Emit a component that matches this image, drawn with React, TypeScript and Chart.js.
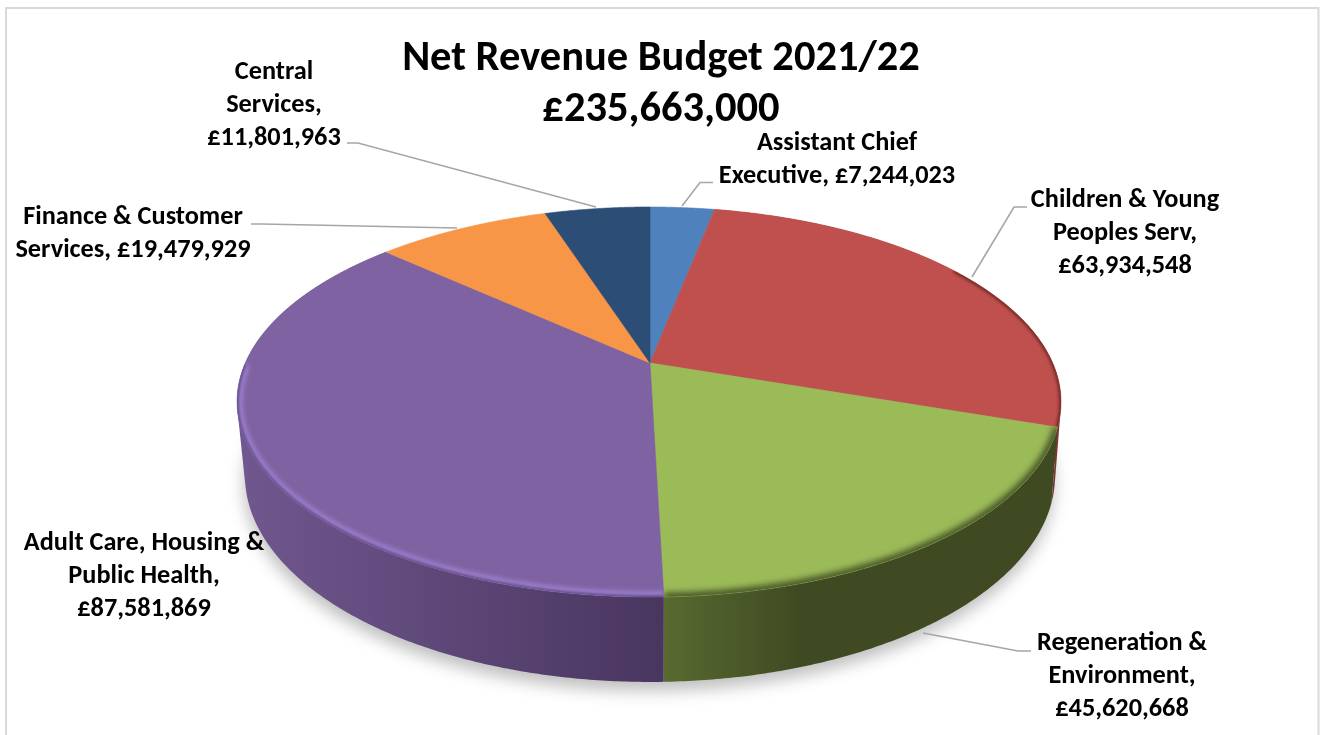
import React, { useEffect, useRef } from "react";
import { Chart, registerables } from "chart.js";

Chart.register(...registerables);

const categories = [
  "Assistant Chief Executive",
  "Children & Young Peoples Serv",
  "Regeneration & Environment",
  "Adult Care, Housing & Public Health",
  "Finance & Customer Services",
  "Central Services",
];
const budgetValues = [7244023, 63934548, 45620668, 87581869, 19479929, 11801963];
const sliceColors = ["#4f81bd", "#bf504d", "#9bbb59", "#7f62a1", "#f79646", "#2c4d75"];
const titleLines = ["Net Revenue Budget 2021/22", "£235,663,000"];
const labelLines = [
  ["Assistant Chief", "Executive, £7,244,023"],
  ["Children & Young", "Peoples Serv,", "£63,934,548"],
  ["Regeneration &", "Environment,", "£45,620,668"],
  ["Adult Care, Housing &", "Public Health,", "£87,581,869"],
  ["Finance & Customer", "Services, £19,479,929"],
  ["Central", "Services,", "£11,801,963"],
];

// layout only
const labelAnchors = [
  [837, 143],
  [1125, 200],
  [1122, 643],
  [144, 543],
  [133, 217],
  [274, 72],
];
const leaders = [
  [[713, 182.5], [700, 182.5], [682, 206]],
  [[1027, 207], [1014, 207], [972, 277]],
  [[1031, 651], [1018, 651], [923, 633]],
  [],
  [[251, 224], [262, 224], [457, 228]],
  [[347, 143], [358, 143], [596, 207]],
];
const wallGradients: (string[] | null)[] = [
  null,
  ["#7d3533", "#7d3533"],
  ["#586a30", "#3f4a22"],
  ["#70578f", "#49365f"],
  null,
  null,
];
const wallSpans = [null, null, [664, 800], [240, 664], null, null];
const rimStyles: ({ color: string; width: number; blur: number; minV: number; edge?: string } | null)[] = [
  null,
  { color: "rgba(85,30,30,0.75)", width: 4, blur: 1.5, minV: -0.55 },
  { color: "rgba(62,73,33,0.95)", width: 8, blur: 3, minV: -1 },
  { color: "rgba(160,132,214,0.95)", width: 11, blur: 2.6, minV: 0.0, edge: "#69508a" },
  null,
  null,
];

const PERSP = { cx: 650, cy: 363, a: 114.6, b: 402.7, p: -0.2, depth: 77.5, q: 0.014, leftBulge: 2 };

function project(angle: number, h: number): [number, number] {
  const u = Math.cos(angle);
  const v = Math.sin(angle);
  const w = 1 + PERSP.q * h + PERSP.p * v;
  const bulge = u < 0 ? PERSP.leftBulge * u * u * (1 - h) : 0;
  return [PERSP.cx + (PERSP.b * u) / w - bulge, (PERSP.cy + PERSP.a * v + PERSP.depth * h) / w];
}

function ringPath(ctx: CanvasRenderingContext2D, a0: number, a1: number, h: number, move: boolean) {
  const n = Math.max(8, Math.ceil(Math.abs(a1 - a0) * 120));
  for (let i = 0; i <= n; i++) {
    const [x, y] = project(a0 + ((a1 - a0) * i) / n, h);
    if (i === 0 && move) ctx.moveTo(x, y);
    else ctx.lineTo(x, y);
  }
}

const pie3d = {
  id: "pie3d",
  beforeDraw(chart: any) {
    const ctx: CanvasRenderingContext2D = chart.ctx;
    ctx.save();
    ctx.fillStyle = "#ffffff";
    ctx.fillRect(0, 0, chart.width, chart.height);
    ctx.strokeStyle = "#d9d9d9";
    ctx.lineWidth = 2;
    ctx.beginPath();
    ctx.moveTo(6, chart.height);
    ctx.lineTo(6, 8);
    ctx.lineTo(1318.5, 8);
    ctx.lineTo(1318.5, chart.height);
    ctx.stroke();
    ctx.restore();
  },
  beforeDatasetsDraw(chart: any) {
    const ctx: CanvasRenderingContext2D = chart.ctx;
    const arcs = chart.getDatasetMeta(0).data;
    ctx.save();

    // soft ground shadow
    ctx.save();
    ctx.filter = "blur(8px)";
    ctx.fillStyle = "rgba(0,0,0,0.25)";
    ctx.translate(-1, 9);
    ctx.beginPath();
    ringPath(ctx, 0, Math.PI * 2, 1, true);
    ctx.closePath();
    ctx.fill();
    ctx.restore();

    // side walls: one path of consistently wound quads, so the fill is a seamless union
    arcs.forEach((arc: any, i: number) => {
      const colors = wallGradients[i];
      if (!colors) return;
      const span = wallSpans[i];
      let fill: any = colors[0];
      if (span) {
        const g = ctx.createLinearGradient(span[0], 0, span[1], 0);
        g.addColorStop(0, colors[0]);
        g.addColorStop(1, colors[1]);
        fill = g;
      }
      ctx.fillStyle = fill;
      const n = Math.ceil((arc.endAngle - arc.startAngle) * 120);
      ctx.beginPath();
      for (let k = 0; k < n; k++) {
        const a0 = arc.startAngle + ((arc.endAngle - arc.startAngle) * k) / n;
        const a1 = arc.startAngle + ((arc.endAngle - arc.startAngle) * (k + 1)) / n;
        const q = [project(a0, 0), project(a1, 0), project(a1, 1), project(a0, 1)];
        let area = 0;
        q.forEach((p, m) => {
          const r = q[(m + 1) % 4];
          area += p[0] * r[1] - r[0] * p[1];
        });
        if (area < 0) q.reverse();
        q.forEach((p, m) => (m ? ctx.lineTo(p[0], p[1]) : ctx.moveTo(p[0], p[1])));
        ctx.closePath();
      }
      ctx.fill("nonzero");
    });

    // top faces
    arcs.forEach((arc: any, i: number) => {
      const slice = new Path2D();
      slice.moveTo(PERSP.cx, PERSP.cy);
      const n = Math.ceil((arc.endAngle - arc.startAngle) * 160);
      for (let k = 0; k <= n; k++) {
        const [x, y] = project(arc.startAngle + ((arc.endAngle - arc.startAngle) * k) / n, 0);
        slice.lineTo(x, y);
      }
      slice.closePath();
      ctx.fillStyle = sliceColors[i];
      ctx.strokeStyle = sliceColors[i];
      ctx.lineWidth = 0.6;
      ctx.fill(slice);
      ctx.stroke(slice);

      const rim = rimStyles[i];
      if (rim) {
        const rimLine = new Path2D();
        let started = false;
        for (let k = 0; k <= n; k++) {
          const a = arc.startAngle + ((arc.endAngle - arc.startAngle) * k) / n;
          if (Math.sin(a) < rim.minV) continue;
          const [x, y] = project(a, 0);
          if (!started) rimLine.moveTo(x, y);
          else rimLine.lineTo(x, y);
          started = true;
        }
        ctx.save();
        ctx.clip(slice);
        ctx.filter = `blur(${rim.blur}px)`;
        ctx.strokeStyle = rim.color;
        ctx.lineWidth = rim.width;
        ctx.stroke(rimLine);
        if (rim.edge) {
          ctx.filter = "blur(1.2px)";
          ctx.strokeStyle = rim.edge;
          ctx.lineWidth = 4;
          ctx.stroke(rimLine);
        }
        ctx.restore();
      }
    });

    ctx.restore();
    return false;
  },
  afterDraw(chart: any) {
    const ctx: CanvasRenderingContext2D = chart.ctx;
    ctx.save();
    ctx.strokeStyle = "#a6a6a6";
    ctx.lineWidth = 1.6;
    leaders.forEach((pts) => {
      if (!pts.length) return;
      ctx.beginPath();
      pts.forEach(([x, y], k) => (k ? ctx.lineTo(x, y) : ctx.moveTo(x, y)));
      ctx.stroke();
    });
    ctx.fillStyle = "#000000";
    ctx.font = "bold 26.3px Carlito, Lato, sans-serif";
    ctx.textAlign = "center";
    ctx.textBaseline = "middle";
    labelLines.forEach((lines, i) => {
      const [x, y] = labelAnchors[i];
      lines.forEach((line, k) => ctx.fillText(line, x, y + k * 33));
    });
    ctx.restore();
  },
};

export default function App() {
  const ref = useRef<HTMLCanvasElement | null>(null);
  useEffect(() => {
    if (!ref.current) return;
    const chart = new Chart(ref.current, {
      type: "pie",
      data: {
        labels: categories,
        datasets: [{ data: budgetValues, backgroundColor: sliceColors, borderWidth: 0 }],
      },
      options: {
        responsive: false,
        animation: false,
        events: [],
        plugins: {
          legend: { display: false },
          tooltip: { enabled: false },
          title: {
            display: true,
            text: titleLines,
            color: "#000000",
            font: { family: "Carlito, Lato, sans-serif", size: 42.5, weight: "bold", lineHeight: 1.2 },
            padding: { top: 34, bottom: 0 },
          },
        },
      },
      plugins: [pie3d],
    } as any);
    return () => chart.destroy();
  }, []);
  return (
    <div style={{ position: "fixed", left: 0, top: 0, width: 1322, height: 735, background: "#fff" }}>
      <canvas ref={ref} width={1322} height={735} style={{ display: "block" }} />
    </div>
  );
}
